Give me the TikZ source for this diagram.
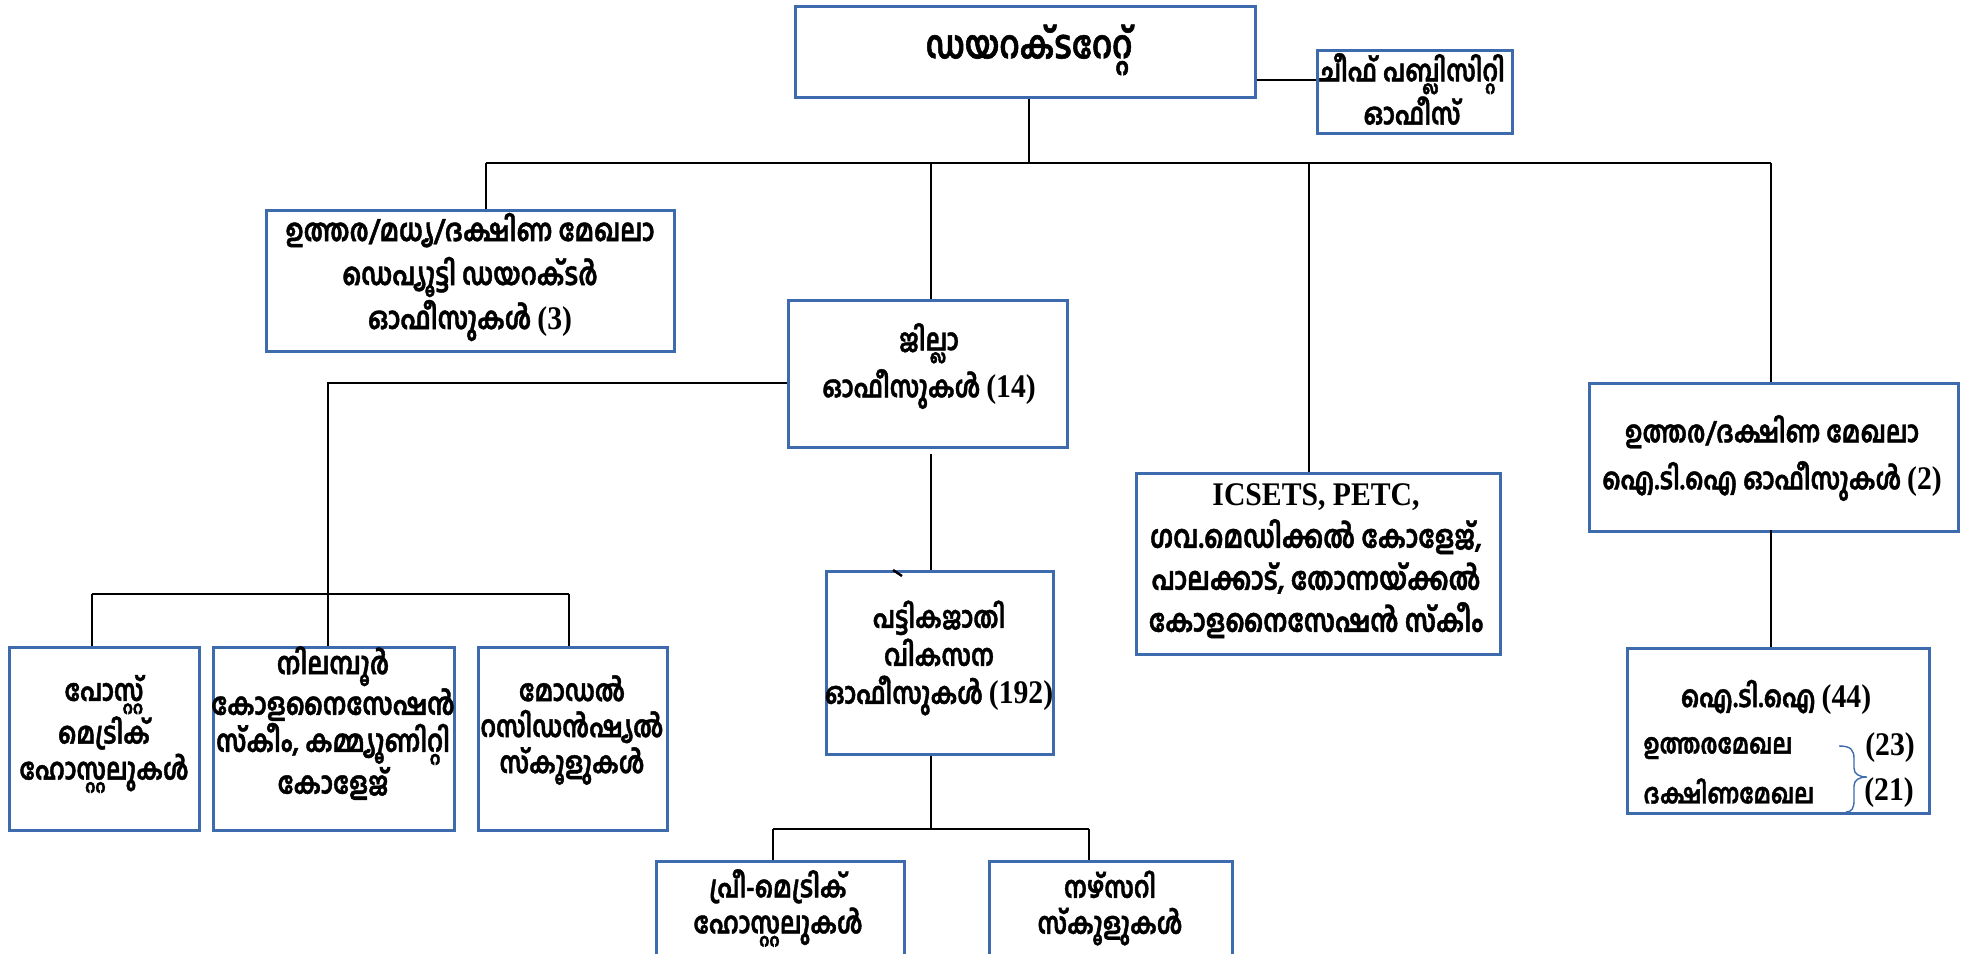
\documentclass[tikz,border=0pt]{standalone}
\usepackage{fontspec}
\setmainfont{Liberation Serif}
\newfontfamily\mlfont[Script=Malayalam, FakeStretch=0.8, BoldFeatures={FakeBold=1.3}]{Hind Kochi}
\newfontfamily\latfont[FakeStretch=0.9]{Liberation Serif}
\usetikzlibrary{fit,calc}
\definecolor{boxblue}{HTML}{3E6AAE}
\newcommand\nm[1]{{\latfont\bfseries\fontsize{16.5pt}{18pt}\selectfont #1}}
\newcommand\mlsz[2]{\mlfont\bfseries\fontsize{#1}{#2}\selectfont}
\begin{document}
\begin{tikzpicture}[x=0.5pt,y=-0.5pt,
  box/.style={draw=boxblue, line width=1.5pt, inner sep=0pt, rectangle},
  conn/.style={draw=black, line width=1.4pt},
  txt/.style={align=center, inner sep=0pt, font=\mlsz{15pt}{#1}},
  txt/.default=20pt]
\useasboundingbox (0,0) rectangle (1968,953);
\clip (0,0) rectangle (1968,953);

% boxes
\node[box, fit={(795,6) (1255,97)}] (dir) {};
\node[box, fit={(1317,50) (1512,133)}] (chief) {};
\node[box, fit={(266,210) (674,351)}] (dd) {};
\node[box, fit={(788,300) (1067,447)}] (jilla) {};
\node[box, fit={(1136,473) (1500,654)}] (icsets) {};
\node[box, fit={(1589,383) (1958,531)}] (itiz) {};
\node[box, fit={(1627,648) (1929,813)}] (iti) {};
\node[box, fit={(9,647) (199,830)}] (post) {};
\node[box, fit={(213,647) (454,830)}] (nil) {};
\node[box, fit={(478,647) (667,830)}] (model) {};
\node[box, fit={(826,571) (1053,754)}] (sc) {};
\node[box, fit={(656,861) (904,975)}] (pre) {};
\node[box, fit={(989,861) (1232,975)}] (nur) {};

% texts
\node[txt, font=\mlsz{19.5pt}{24pt}] (tdir) at (1029,50) {ഡയറക്ടറേറ്റ്};
\node[txt=19pt] (tchief) at (1412,89) {ചീഫ് പബ്ലിസിറ്റി\\ഓഫീസ്};
\node[txt, font=\mlsz{15.5pt}{22pt}] (tdd) at (470,277) {ഉത്തര/മധ്യ/ദക്ഷിണ മേഖലാ\\ഡെപ്യൂട്ടി ഡയറക്ടർ\\ഓഫീസുകൾ \nm{(3)}};
\node[txt=23.5pt] (tjilla) at (929,366) {ജില്ലാ\\ഓഫീസുകൾ \nm{(14)}};
\node[txt, font=\mlsz{15.8pt}{21pt}] (ticsets) at (1316,561) {\nm{ICSETS, PETC,}\\ഗവ.മെഡിക്കൽ കോളേജ്,\\പാലക്കാട്, തോന്നയ്ക്കൽ\\കോളനൈസേഷൻ സ്കീം};
\node[txt=23.5pt] (titiz) at (1772,458) {ഉത്തര/ദക്ഷിണ മേഖലാ\\ഐ.ടി.ഐ ഓഫീസുകൾ \nm{(2)}};
\node[txt] (titi) at (1776,697) {ഐ.ടി.ഐ \nm{(44)}};
\node[txt, font=\mlsz{13.8pt}{16pt}, anchor=west] (tnorth) at (1643,748) {ഉത്തരമേഖല};
\node[txt, font=\mlsz{13.8pt}{16pt}, anchor=west] (tsouth) at (1643,791) {ദക്ഷിണമേഖല};
\node[txt] (n23) at (1890,748) {\nm{(23)}};
\node[txt] (n21) at (1889,793) {\nm{(21)}};
\node[txt=18pt] (tpost) at (104,734) {പോസ്റ്റ്\\മെട്രിക്\\ഹോസ്റ്റലുകൾ};
\node[txt, font=\mlsz{15.4pt}{17pt}] (tnil) at (333,723) {നിലമ്പൂർ\\കോളനൈസേഷൻ\\സ്കീം, കമ്മ്യൂണിറ്റി\\കോളേജ്};
\node[txt=18pt] (tmodel) at (572,730) {മോഡൽ\\റസിഡൻഷ്യൽ\\സ്കൂളുകൾ};
\node[txt=19pt] (tsc) at (939,658) {പട്ടികജാതി\\വികസന\\ഓഫീസുകൾ \nm{(192)}};
\node[txt=18pt] (tpre) at (778,908) {പ്രീ-മെട്രിക്\\ഹോസ്റ്റലുകൾ};
\node[txt=18pt] (tnur) at (1110,908) {നഴ്സറി\\സ്കൂളുകൾ};

% bus coordinates
\coordinate (b0) at (1029,163);
\coordinate (bL) at (486,163);
\coordinate (bJ) at (931,163);
\coordinate (bI) at (1309,163);
\coordinate (bR) at (1771,163);
\coordinate (jL) at (328,383);
\coordinate (l1) at (92,594);
\coordinate (l2) at (328,594);
\coordinate (l3) at (569,594);
\coordinate (p0) at (931,829);
\coordinate (pL) at (773,829);
\coordinate (pR) at (1089,829);

% connectors
\draw[conn] (dir.east |- 0,80) -- (chief.west |- 0,80);
\draw[conn] (dir.south -| b0) -- (b0);
\draw[conn] (bL) -- (bR);
\draw[conn] (bL) -- (dd.north -| bL);
\draw[conn] (bJ) -- (jilla.north -| bJ);
\draw[conn] (bI) -- (icsets.north -| bI);
\draw[conn] (bR) -- (itiz.north -| bR);
\draw[conn] (jilla.west |- jL) -- (jL) -- (l2);
\draw[conn] (l1) -- (l3);
\draw[conn] (l1) -- (post.north -| l1);
\draw[conn] (l2) -- (nil.north -| l2);
\draw[conn] (l3) -- (model.north -| l3);
\draw[conn] ($(jilla.south -| bJ)+(0,5)$) -- (sc.north -| bJ);
\draw[conn] (sc.south -| p0) -- (p0);
\draw[conn] (pL) -- (pR);
\draw[conn] (pL) -- (pre.north -| pL);
\draw[conn] (pR) -- (nur.north -| pR);
\draw[conn] ($(itiz.south -| bR)+(0,-3)$) -- (iti.north -| bR);
% small tick
\coordinate (tk1) at (893,570);
\coordinate (tk2) at (902,576);
\draw[conn, line width=1.2pt] (tk1) -- (tk2);
% brace
\coordinate (br1) at (1839,746);
\coordinate (br2) at (1846,812);
\draw[boxblue, line width=0.7pt] (br1) .. controls (1851,746) and (1854,750) .. (1854,759) -- (1854,768) .. controls (1854,774) and (1859,777) .. (1867,777) .. controls (1859,777) and (1854,780) .. (1854,786) -- (1854,800) .. controls (1854,808) and (1852,812) .. (br2);
\end{tikzpicture}
\end{document}
